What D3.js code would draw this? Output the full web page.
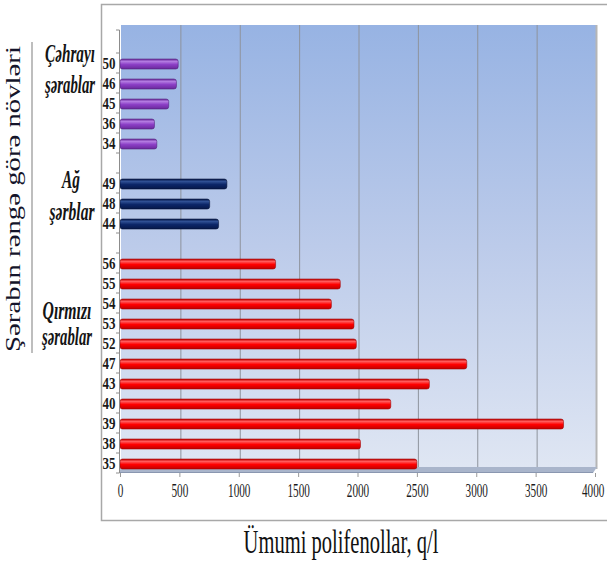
<!DOCTYPE html>
<html>
<head>
<meta charset="utf-8">
<script src="https://cdn.jsdelivr.net/npm/d3@7"></script>
<style>
  html, body { margin: 0; padding: 0; background: #ffffff; }
  svg { display: block; }
</style>
</head>
<body>
<svg id="chart" width="607" height="561"></svg>
<script>
// Total polyphenols by wine sample, grouped by wine colour (rows listed bottom to top)
const redSamples   = ["35", "38", "39", "40", "43", "47", "52", "53", "54", "55", "56"];
const redValues    = [2500, 2025, 3735, 2280, 2605, 2920, 1990, 1970, 1780, 1855, 1310];
const whiteSamples = ["44", "48", "49"];
const whiteValues  = [830, 755, 900];
const roseSamples  = ["34", "36", "45", "46", "50"];
const roseValues   = [310, 290, 410, 475, 490];

const groupNames   = [["Qırmızı", "şərablar"], ["Ağ", "şərblar"], ["Çəhrayı", "şərablar"]];
const xTicks       = [0, 500, 1000, 1500, 2000, 2500, 3000, 3500, 4000];
const xTitle       = "Ümumi polifenollar, q/l";
const yTitle       = "Şərabın rəngə görə növləri";

// Build the row list with an empty spacer row after each group
const rows = [];
function addGroup(names, values, kind) {
  names.forEach((n, i) => rows.push({ label: n, value: values[i], kind }));
  rows.push({ label: "", value: null, kind: "spacer" });
}
addGroup(redSamples, redValues, "red");
addGroup(whiteSamples, whiteValues, "white");
addGroup(roseSamples, roseValues, "rose");

const svg = d3.select("#chart");
const defs = svg.append("defs");

// Narrow a text horizontally to a target width, anchored at (px, py)
function fitWidth(sel, px, py, width, rotate) {
  sel.each(function (d, i) {
    const t = d3.select(this).attr("x", 0).attr("y", 0);
    const len = this.getComputedTextLength();
    const w = typeof width === "function" ? width(d, i) : width;
    const X = typeof px === "function" ? px(d, i) : px;
    const Y = typeof py === "function" ? py(d, i) : py;
    const k = len > 0 ? w / len : 1;
    t.attr("transform", `translate(${X},${Y})${rotate ? ` rotate(${rotate})` : ""} scale(${k},1)`);
  });
}

// Plot geometry (back wall and front plane of the 3-D chart)
const wall = { x0: 121, x1: 596, y0: 25, y1: 467 };
const front = { y: 473, top: 33 };

const x = d3.scaleLinear().domain([0, 4000]).range([120, 595]);
const xBack = d3.scaleLinear().domain([0, 4000]).range([wall.x0, wall.x1]);
const y = d3.scaleBand().domain(d3.range(rows.length)).range([front.y, front.top]).paddingInner(0).paddingOuter(0);
const yEdge = d3.scaleLinear().domain([0, rows.length]).range([front.y, front.top]);

// Gradients
const wallGrad = defs.append("linearGradient").attr("id", "wallGrad")
  .attr("x1", 0).attr("y1", 0).attr("x2", 0).attr("y2", 1);
wallGrad.append("stop").attr("offset", "0%").attr("stop-color", "#97b3e3");
wallGrad.append("stop").attr("offset", "50%").attr("stop-color", "#bccbea");
wallGrad.append("stop").attr("offset", "100%").attr("stop-color", "#dfe6f3");

const barStyles = {
  red:   { light: "#ff5a5a", mid: "#ff0000", dark: "#c00000", edge: "#9a0000" },
  white: { light: "#2f4f93", mid: "#0c2668", dark: "#06184a", edge: "#041033" },
  rose:  { light: "#b27ae0", mid: "#8c3fc6", dark: "#6a2a9c", edge: "#4f1d78" }
};
Object.entries(barStyles).forEach(([k, c]) => {
  const g = defs.append("linearGradient").attr("id", "bar-" + k)
    .attr("x1", 0).attr("y1", 0).attr("x2", 0).attr("y2", 1);
  g.append("stop").attr("offset", "0%").attr("stop-color", c.dark);
  g.append("stop").attr("offset", "25%").attr("stop-color", c.light);
  g.append("stop").attr("offset", "55%").attr("stop-color", c.mid);
  g.append("stop").attr("offset", "100%").attr("stop-color", c.dark);
});

// Outer chart frame
svg.append("rect")
  .attr("x", 101.5).attr("y", 4.5).attr("width", 530).attr("height", 516)
  .attr("fill", "#ffffff").attr("stroke", "#a8a8a8").attr("stroke-width", 1.5);

// Back wall
svg.append("rect")
  .attr("x", wall.x0).attr("y", wall.y0)
  .attr("width", wall.x1 - wall.x0).attr("height", wall.y1 - wall.y0)
  .attr("fill", "url(#wallGrad)");

// Right wall edge
svg.append("line")
  .attr("x1", wall.x1 + 0.5).attr("x2", wall.x1 + 0.5)
  .attr("y1", wall.y0).attr("y2", wall.y1 + 2)
  .attr("stroke", "#b5b5b5").attr("stroke-width", 2);

// Vertical gridlines on the back wall
svg.append("g").selectAll("line")
  .data(xTicks.filter(d => d > 0 && d < 4000))
  .join("line")
  .attr("x1", d => xBack(d) + 0.5).attr("x2", d => xBack(d) + 0.5)
  .attr("y1", wall.y0).attr("y2", wall.y1)
  .attr("stroke", "#8e939c").attr("stroke-width", 1);

// Floor strip
svg.append("polygon")
  .attr("points", [[119, front.y], [593, front.y], [wall.x1 + 1, wall.y1], [wall.x0, wall.y1]].map(p => p.join(",")).join(" "))
  .attr("fill", "#a9b5cb");
svg.append("line")
  .attr("x1", 119).attr("x2", 593).attr("y1", front.y - 0.5).attr("y2", front.y - 0.5)
  .attr("stroke", "#8a97b0").attr("stroke-width", 1.2);

// Bars
const dataRows = rows.map((r, i) => ({ ...r, i })).filter(r => r.value != null);
const barH = 10;
svg.append("g").selectAll("rect")
  .data(dataRows)
  .join("rect")
  .attr("x", x(0))
  .attr("y", d => y(d.i) + y.bandwidth() / 2 - barH / 2 + 1)
  .attr("width", d => x(d.value) - x(0))
  .attr("height", barH)
  .attr("rx", 2.5).attr("ry", 2.5)
  .attr("fill", d => `url(#bar-${d.kind})`)
  .attr("stroke", d => barStyles[d.kind].edge)
  .attr("stroke-width", 0.8)
  .attr("stroke-opacity", 0.7);

// Y axis: line, boundary ticks and sample labels
const yAxisG = svg.append("g");
yAxisG.append("line")
  .attr("x1", 119.5).attr("x2", 119.5)
  .attr("y1", yEdge(rows.length) - 3).attr("y2", front.y)
  .attr("stroke", "#8c8c8c").attr("stroke-width", 1);
yAxisG.selectAll("line.tick")
  .data(d3.range(rows.length + 1))
  .join("line").attr("class", "tick")
  .attr("x1", 116).attr("x2", 119.5)
  .attr("y1", d => yEdge(d) - 3 * (d === rows.length)).attr("y2", d => yEdge(d) - 3 * (d === rows.length))
  .attr("stroke", "#8c8c8c").attr("stroke-width", 1);
yAxisG.selectAll("text")
  .data(rows.map((r, i) => ({ ...r, i })).filter(r => r.label !== ""))
  .join("text")
  .attr("text-anchor", "end")
  .attr("font-family", "'Liberation Serif', 'Times New Roman', serif")
  .attr("font-weight", "bold")
  .attr("font-size", 16)
  .attr("fill", "#1a1a1a")
  .text(d => d.label)
  .call(fitWidth, 115.5, d => y(d.i) + y.bandwidth() / 2 + 6, 13);

// X axis (labels narrowed horizontally with a scale about each tick)
const xAxis = d3.axisBottom(x).tickValues(xTicks).tickSize(4).tickPadding(7).tickFormat(d3.format("d"));
const xAxisG = svg.append("g").attr("transform", `translate(0,${front.y})`).call(xAxis);
xAxisG.select(".domain").remove();
xAxisG.selectAll(".tick line").attr("stroke", "#9a9a9a");
xAxisG.selectAll(".tick text")
  .attr("font-family", "'Liberation Serif', 'Times New Roman', serif")
  .attr("font-size", 19)
  .attr("fill", "#1a1a1a")
  .attr("x", d => d === 4000 ? -4 : 0)
  .attr("transform", "scale(0.59,1)");

// X axis title
svg.append("text")
  .attr("text-anchor", "middle")
  .attr("font-family", "'Liberation Serif', 'Times New Roman', serif")
  .attr("font-size", 34)
  .attr("fill", "#111111")
  .text(xTitle)
  .call(fitWidth, 341, 553, 195);

// Rotated Y title and its separator line
svg.append("text")
  .attr("text-anchor", "middle")
  .attr("dy", "0.35em")
  .attr("font-family", "'Liberation Serif', 'Times New Roman', serif")
  .attr("font-size", 20)
  .attr("fill", "#14142a")
  .text(yTitle)
  .call(fitWidth, 13, 199, 306, -90);
svg.append("line")
  .attr("x1", 32).attr("x2", 32).attr("y1", 42).attr("y2", 353)
  .attr("stroke", "#a9a9a9").attr("stroke-width", 1.5);

// Group captions, anchored to rows of each group
const rowIndex = lbl => rows.findIndex(r => r.label === lbl);
const rowY = lbl => y(rowIndex(lbl)) + y.bandwidth() / 2;
const captions = [
  { text: groupNames[2][0], cx: 70, y: rowY("50") - 1,  w: 50 },
  { text: groupNames[2][1], cx: 70, y: rowY("46") + 10, w: 50 },
  { text: groupNames[1][0], cx: 71, y: rowY("49") + 5,  w: 18 },
  { text: groupNames[1][1], cx: 72, y: rowY("44") - 3,  w: 45 },
  { text: groupNames[0][0], cx: 67, y: rowY("53") - 4,  w: 49 },
  { text: groupNames[0][1], cx: 67, y: rowY("52") + 2,  w: 50 }
];
svg.append("g").selectAll("text")
  .data(captions)
  .join("text")
  .attr("text-anchor", "middle")
  .attr("font-family", "'Liberation Serif', 'Times New Roman', serif")
  .attr("font-style", "italic")
  .attr("font-weight", "bold")
  .attr("font-size", 25)
  .attr("fill", "#141414")
  .text(d => d.text)
  .call(fitWidth, d => d.cx, d => d.y, d => d.w);
</script>
</body>
</html>
